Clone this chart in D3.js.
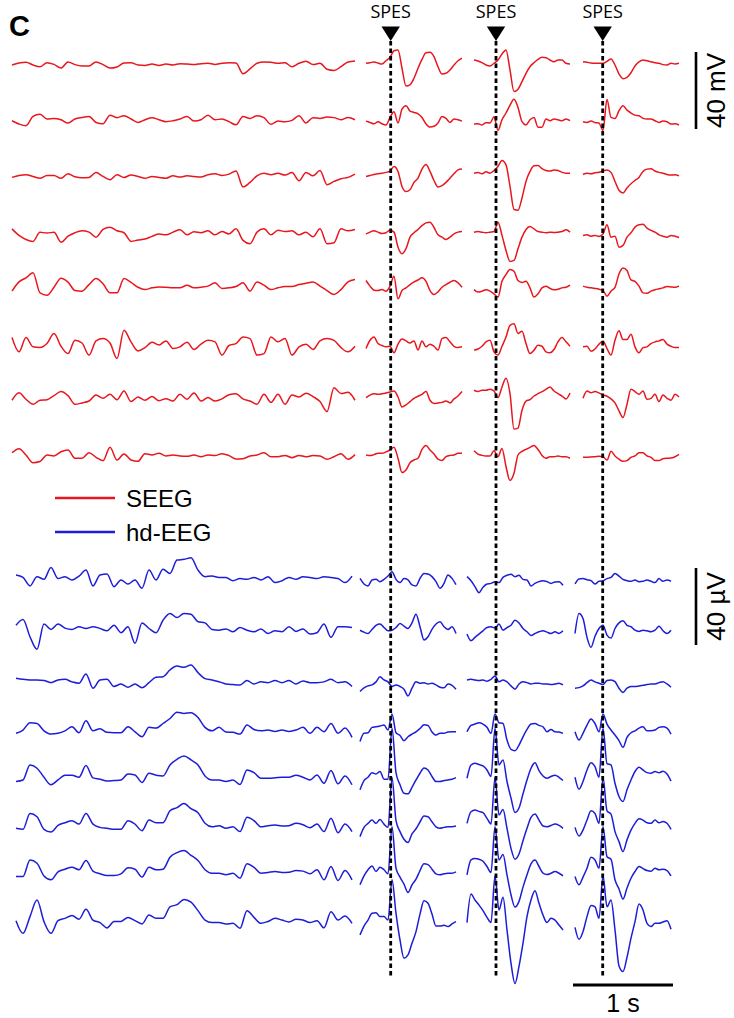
<!DOCTYPE html>
<html>
<head>
<meta charset="utf-8">
<script src="https://cdn.jsdelivr.net/npm/d3@7"></script>
<style>
  body { margin: 0; background: #fff; }
  svg { display: block; }
</style>
</head>
<body>
<svg id="chart" width="734" height="1018"></svg>
<script>
// ---- Timing (s, on a common strip axis) ----
const restStep = 0.07;            // resting-state sampling step
const epochStep = 0.04;           // SPES epoch sampling step
const stimTimes = [3.787, 4.84, 5.907];
const seegRestStart = 0.0;
const hdRestStart = 0.04;
const seegEpochStarts = [3.54, 4.62, 5.71];
const hdEpochStarts = [3.48, 4.55, 5.63];

// ---- SEEG (mV), 8 contacts ----
const seegRest = [
  [0,1,1.4,0,-0.9,1.2,0.3,-1.6,1.6,0.2,-0.5,-0.5,1.6,0.2,-1.6,-1,1,1.2,0,-0.2,0.5,-0.2,0.5,0,0.7,0.5,0.2,0.7,0.9,0.3,0.9,1.2,1,-4.5,-2,0.9,1.6,1.4,0.9,1.2,-0.9,0.9,1.9,0.2,0.9,-2.2,-2.8,-0.9,1.6,2.1],
  [0,-1.7,-2.6,2.2,3.4,0.9,1.2,0.5,-1.2,0.9,1.7,2.2,-0.9,-1.6,2.9,1.6,2.6,0.9,-0.9,0.5,1.6,0.5,-0.5,0,0.9,2.2,-0.2,0.5,2.9,0.5,0.9,-0.5,-2.1,2.2,1.2,2.6,1.6,-1.9,-0.2,-0.5,0.2,2.6,-1.2,1.6,1.2,1.9,1.6,0.5,1.7,0.5],
  [-0.5,0.5,0.9,0,-1,0.5,0.5,-1,1.4,-0.2,-0.7,-0.5,2,0,-1.7,0.9,-0.5,0.7,0,-1,0,-0.5,-0.9,0.3,-0.3,0.3,0,-0.3,0.9,1.4,0.5,1.2,2.8,-5.5,-3.1,0.3,1.6,0.9,1.6,0.7,2,-2.2,2.1,0.3,3.1,-4.3,-2.6,-1.2,-0.5,1.2],
  [1.7,-1.7,-3.8,-4.8,0,-0.5,0,-5.2,-2.1,-0.3,0.7,0,-2.6,1.4,2.6,0.7,-0.3,-4.8,-4.1,-3.6,-2.2,-1,-1.4,0,1.2,-1.4,0.2,-0.3,0.7,-1.4,0.3,-0.9,1.7,-4.3,-6,0,1.7,-1.4,1,0.3,0.7,-1.4,0,-2.4,1.7,-6,-5.5,1.7,0.7,1.4],
  [-1.7,3.1,5.2,7.8,-2.6,-3.8,0.3,5,3,-1.4,-1.7,1.7,4.8,2.1,-2.6,-2.6,4.8,2.9,0.3,-0.9,0,0.5,0.3,0,0,1.4,0,0.3,0.9,2.6,-0.3,0,0.7,2.6,-1.7,3.1,1.4,-0.9,0,0.7,0.7,1.7,2.4,3.1,0.9,-1.4,-3.4,-0.9,3.1,4.3],
  [3.1,-4.3,3.1,-1.7,-2.1,0,5.2,-1.4,-5.2,1.7,0.3,-6,1.4,2.6,0.3,-7.8,6.9,0.9,-3.8,-2.1,0.7,-0.7,1.4,-2.6,-1.7,0.7,-3.1,-0.3,1.7,0.9,-6,-1,0,3.4,2.6,-6,-5.2,3.4,0.9,2.6,-6,-1.7,-0.3,-3.1,1.4,2.6,1.7,-2.1,-4.3,-1.4],
  [-0.5,3.4,0,-2.6,-0.5,-0.2,1.9,4,1.9,-2.6,-1.9,-0.9,2.2,0.5,2.6,-0.2,4.3,-1.2,1.2,-0.5,1.4,-0.7,0.3,-0.9,2.6,0,3.3,-0.9,0.9,-0.9,0.2,2.4,2.9,0.2,-0.9,-2.6,2.6,-1.6,2.6,-2.6,2.2,1.2,3.1,1.4,-1.2,-6.4,6,3,3.6,-0.5],
  [1.2,3.3,0,-4,-3.4,0,-0.5,1.7,2.6,-1.7,-1.7,1.2,-1.2,-3,4,-2.6,0.5,-2.6,-3.3,0.7,0,0.9,-0.5,0,-0.5,-0.7,0,-0.9,0,-0.3,0.7,-0.3,-2.1,-1.9,-0.5,0,1.2,-0.9,-0.9,-0.2,-1.4,-0.2,-0.9,-0.3,-0.5,-2.2,-0.9,0.7,-2.2,0.2]
];
const seegEpoch1 = [
  [0.9,1.2,1.6,1,0.5,2.2,4,7.4,7.8,-1.7,-10.9,-10.3,-6.9,-1.7,2.9,6.4,6.6,4.3,-0.9,-4.7,-4.3,-2.6,0,2.2,3.6],
  [-0.2,-0.9,-1.6,-0.5,-1.6,-2.2,1.7,4.7,-1.2,6,7.8,5,4.3,3.6,1.7,-1.7,-3.3,-2.9,-1.2,2.2,1.2,-0.9,0.9,0.5,-0.2],
  [0,0.5,1,1.4,1.6,2.1,2.8,5.2,2.6,-5.2,-7.8,-6.9,-3.1,-0.9,3.8,6.2,2.6,-2.1,-5.5,-4.8,-3.1,-0.9,1.4,3.4,3.8],
  [-0.9,0,0.7,0,-0.7,-0.3,1,0,-7.8,-11.2,-8.6,-2.6,-0.3,1.4,3.4,4.8,5.2,2.4,-1.4,-2.6,-3.8,-2.6,-0.9,0,0.3],
  [3.8,0.9,-1.2,-1.4,-0.9,-1.7,0.9,6,-5.7,-1.4,0,1.7,3.1,4.1,5.2,3.4,-1.4,-3.4,-2.1,0.3,1.7,2.9,3.8,2.6,0.3],
  [-2.6,1.7,3.4,0,-1,-1.7,-1.4,-4.8,-0.3,2.4,1.4,0.3,1.4,-3.4,1.4,-1.7,-0.3,-1.4,-3.4,2.6,3.1,0.9,-1.4,-2.1,-1.7],
  [0.9,2.2,2.9,2.6,2.9,3.3,3.8,4.3,1.2,-4,-2.9,-1.2,0.5,1.6,2.6,4,-0.5,-2.2,-1.9,-1.6,-0.9,-1.9,0.2,1.7,4],
  [0,-0.3,0.2,0.9,0.9,1.6,2.6,4,-1.7,-9.1,-7.8,-4,-2.6,-1.7,2.9,5,2.6,0.5,-2.2,-2.9,-0.9,-0.2,0,0.9,0.9]
];
const seegEpoch2 = [
  [2.6,2.1,1.2,0,-0.5,0.9,2.6,5.7,7.8,-2.6,-13.8,-12.6,-8.6,-4.3,-0.9,1.2,2.9,4,3.8,2.6,1.7,2.6,2.6,0.9,0.5],
  [-1.7,-1.6,-2.2,-1,-1.2,2,-5,0.5,4,8.1,11.2,6.9,-0.5,-2.2,0.5,1.7,-3.4,-3.4,0.9,0,0.9,0.5,0,0.9,0],
  [1.7,2.1,1.4,2.4,1.7,3.1,5.2,8.3,6,-5.2,-17.2,-17.6,-11.2,-2.6,2.6,5.5,5.7,4.1,3.1,2.8,3.4,3.1,2.1,1.7,1.7],
  [0,0.3,0,-0.3,0,0.3,5.2,-1.7,-9.5,-15.2,-14.7,-8.6,-2.6,1.4,2.9,1.7,0.3,0,-0.3,0,-0.2,0,0.3,1.2,0],
  [-0.9,-2.2,-1.7,-1,-1.7,-3.1,-4.8,3.4,6.9,9.5,8.6,3.8,2.8,3.4,0,-4.8,-3.1,0,0.9,-0.3,-1,-0.7,0,0.3,1.4],
  [-3.4,-2.8,-1.4,0.9,1.7,-4.3,-6,-1.4,3.4,9.5,10.3,5.2,6.4,0,-5.2,-3.4,-0.9,-1.4,-4.3,-4.8,-3.1,0.9,3.1,0.9,-1.4],
  [4.7,4,4.7,4.7,5.2,4.3,0.9,6.4,10.9,2.9,-15.5,-15,-5.7,-0.9,-0.2,1.7,2.9,4,5.2,6.4,4.3,2.9,1.7,0.2,3.3],
  [2.2,0.5,-0.2,-0.5,-0.5,2.2,-0.9,3.4,-6,-13.3,-9.5,0,1.9,2.9,4,5,2.9,-0.2,-1.7,-0.9,-0.9,-0.5,-0.9,-0.9,-1.7]
];
const seegEpoch3 = [
  [1.7,1.4,1,0.9,0.9,0.9,1.9,3.1,0,-4.7,-7.1,-6.4,-4,-0.5,1.6,2.6,2.2,1.7,1.2,0.9,0.2,0,0.9,0.5,0.9],
  [-0.5,-0.9,-0.2,-0.9,-1.2,-5,11,1.7,1.2,5.2,7.8,5.5,4,2.9,2.6,1.2,0.9,0.9,0,-0.9,-0.2,-0.5,-1.7,-1.6,-2.2],
  [1,1.6,1.4,1.9,2.2,2.8,3.4,2.1,-2.6,-7.2,-8.6,-6,-3.8,-2.1,-0.5,2.6,3.8,4,2.8,2.1,1.7,1,0.7,0.9,0.3],
  [-1.7,-1.4,-2.1,-1.7,-2.2,-1,3.8,-2.6,-2.1,-7.8,-6.9,-2.6,-0.3,2.6,3.8,4.1,2.1,0.9,0,-1.4,-2.1,-2.6,-1.7,-2.1,-2.8],
  [0.9,0.3,0,-0.3,-0.7,-1.4,-4.3,-1.7,0.3,7.2,10.3,9,4.1,3.4,0.9,-2.6,-2.8,-1.7,-1,-0.5,0,0.7,0.5,0.3,0.9],
  [-1.7,-1.4,-4,-2.8,-0.3,1.4,-2.6,-6,1.7,6.6,2.1,2.1,4.8,-1.7,-4.8,-2.1,-1.7,0,0.9,1.4,2.1,-0.3,-1.4,-2.1,-2.1],
  [0.5,4.3,3.4,4,3.3,2.2,1.6,0.2,-1.9,-6,-9.5,-2.6,5.2,4,2.6,4.3,0,0.5,2.6,-1.2,2.2,0.5,-0.5,2.6,1.2],
  [-1.2,-1.2,-1,-0.9,-0.7,-0.9,-2.6,1.9,-0.5,-2.2,-3.3,-2.9,-1.2,-0.5,1.2,1.2,-0.5,-1.2,-2.9,-2.9,-1.9,-1.7,-1.6,-0.9,0.3]
];

// ---- hd-EEG (µV), 8 electrodes ----
const hdRest = [
  [1.6,0.3,-4.1,0.7,-0.7,5.5,-0.3,0.7,-1,1,4.1,-4.1,1.6,2.1,-4.5,-1,-3.1,-1,-5.3,4.1,-1,4.5,2.4,9.3,9.7,10.5,4.1,0.7,1,0.3,0.3,-1.4,-0.3,-0.7,0.3,-1,0.7,-2.4,-1.4,0.3,-0.7,0.7,0.3,-0.3,0.7,0.3,-0.3,-2.4,1],
  [1,4,-5,-11.5,1.6,-1.2,1.6,-0.5,-1.2,0.2,-0.7,0.2,-0.7,-1.9,1,-2.9,0.2,-8.4,2.2,-0.7,-2.9,3.6,7.1,5,7.1,6.7,2.8,2.2,-1.2,-1.6,-0.9,-2.4,-0.2,-1.6,-2.4,-0.9,-3.3,-1.9,-2.4,0.2,-2.2,-0.9,-3.6,-2.9,1.6,-5.3,0.2,0.2,-0.2],
  [-1,-1.6,-1.9,-1.9,-2.2,-3.3,-1.9,-1.6,-2.9,-3.6,1.2,-6.2,-1.9,-1.6,-5.3,-4,-5.7,-4,-6,-3.3,-0.5,-0.2,3.3,5.3,4.7,5.9,1.9,-1.2,-1.9,-2.8,-4,-4.3,-4.5,-2.2,-4,-2.9,-3.3,-2.2,-3.3,-2.2,-4,-2.4,-3.3,-3.3,-2.9,-1.6,-3.3,-2.8,-5.3],
  [-4.1,-2.4,1.4,1,-2.8,-4.5,-4.1,-2.8,-0.7,-3.8,2.4,-2.8,-1.7,-3.6,-3.8,-3.8,-0.7,-3.3,-5.9,-1,-1.4,1,3.6,6.9,6.2,6.6,4.1,-1,-2.8,-1,-3.4,-3.6,-4.5,0.2,-2.1,-2.8,-2.4,-3.1,-2.4,-3.1,-2.4,-1,-4.1,-1,-3.3,1,-4.1,-1.4,-6.2],
  [-3.6,-2.8,5,3.3,-1.4,-5.3,-2.8,-0.3,-0.3,-1.4,4.7,-1.7,-2.4,-3.4,-3.1,-2.8,0.3,-0.2,-4.1,0.7,-0.3,-0.7,5,7.9,9.7,7.6,5,-0.7,-2.8,-2.8,-3.6,-2.8,-5.2,2.4,1,-1.9,-1.9,-1.7,-1.4,-1.4,-0.3,-1.4,-2.8,-0.2,-4.5,2.1,-4.8,-0.7,-5.3],
  [-2.4,-2.9,5.3,3.6,-2.9,-4.3,-0.9,0.5,1.6,-0.2,5.3,-0.2,-1.9,-2.4,-2.9,-2.9,1.6,-0.2,-3.6,1.9,0.5,0.5,6.7,8.4,10.5,7.8,5.7,0.2,-1.6,-1,-2.4,-1.6,-4.1,3.3,1.6,-1.6,-1,-0.7,-1.2,-1,0.2,-0.5,-2.1,-0.2,-4.1,2.8,-4.7,-0.2,-4.1],
  [-1.9,-1.9,6.7,5,-1.6,-3.6,0.5,1.9,2.9,1.6,6.4,0.9,-0.5,-1.4,-1.4,-0.5,2.6,1.9,-2.2,2.9,1.6,1.9,8.1,10.5,11.6,9.1,6.4,1.6,-0.2,-0.2,-1,-0.2,-2.8,4.7,2.9,-0.2,0.2,0.7,0.2,0.3,1.2,0.9,-0.5,1.6,-3.6,3.3,-4,1.2,-3.6],
  [0.7,-5.9,2.8,11.4,0.2,-5.9,0.7,1.9,3.4,1.4,6.6,1,-0.3,-3.1,0.2,0.3,2.4,0.7,-1,3.6,1.9,1.9,7.9,9,11.7,10.3,5.9,1,-0.3,-0.3,-1,-0.7,-3.3,5.9,2.4,-0.7,0.3,1.9,1,0,1.4,1,-0.3,0.7,-3,5.3,1,3.1,-0.7]
];
const hdEpoch1 = [
  [-0.2,-3.1,-4.1,-1,-0.7,-1.9,-0.7,1,3.3,-0.7,-2.4,-0.3,-1,-3.6,-4.1,-0.2,2.4,2.1,0.7,-1.9,-5.3,-2.8,1.6,-0.2,-3.4],
  [-1.6,-2.6,-3.3,-1.2,0.9,1.6,-0.2,-1.9,-1.6,-0.2,1.9,0.5,-0.7,2.2,6.7,0.2,-6.7,-5,-1.2,1.6,2.8,0.2,-1.2,0.2,-3.3],
  [-7.9,-6,-5,-4.5,-2.9,-0.2,-1.9,-2.9,-5.3,-4.5,-5.3,-6.7,-10.2,-6.2,-2.9,-3.6,-3.3,-4,-3.6,-4.5,-5.7,-6,-4,-4.7,-6.7],
  [-8.4,-4.1,-3.8,-1,-0.7,-0.3,0.2,-2.4,6,-3.8,-5.2,-7.9,-5.9,-4.5,-3.3,-1.6,0.3,0,-3.4,-5,-4.1,-4.1,-3.4,-3.3,-3.3],
  [-7.9,-3.1,-1.4,1,0.3,1.6,-2.4,-2.4,24,1,-5.3,-9.7,-10,-6.6,-2.8,0.7,3.4,2.4,-1,-3.6,-3.6,-3.1,-2.8,-2.4,-1.6],
  [-6.7,-1.9,0.2,1.9,0.2,2.2,-0.2,-1.9,24,1.6,-4.1,-8.1,-9.8,-5.3,-2.6,0.9,4,3.6,1,-1.6,-2.4,-1.9,-1.6,-1.6,-1.2],
  [-6.2,-1.6,1.6,3.6,0.7,2.9,1.6,-0.5,24,2.4,-2.2,-5.9,-10.2,-6.2,-3.3,1.2,4.7,4.3,1.9,-0.5,-1,-0.5,-0.2,-0.2,0.5],
  [-6.7,-2.1,1,4.5,4.8,2.8,2.8,1,22,4.5,-9.3,-18.8,-17.1,-11,-5,4.1,11,9.7,4.1,-2.1,-2.1,-1.7,-2.4,-1,0.2]
];
const hdEpoch2 = [
  [0.7,-1.4,-4.5,-7.6,-4.8,-3.1,-2.8,-1.9,-2.4,0.3,1.4,1.9,0.7,1.4,-0.7,-1,-4.1,-2.8,-1.9,-1.4,-1.9,-2.8,-2.1,-1.9,-3.8],
  [-3.6,-7.1,-5.3,-3.6,-1.9,-0.2,0.2,-0.5,1.6,-1.6,-0.2,1,3.6,2.2,-0.7,-2.4,-4.3,-3.3,-2.4,-1.9,-2.6,-3.3,-2.4,-3.3,-1.9],
  [-1.9,-1.6,-1.9,-2.2,-1.9,-2.6,-1.6,0.2,-2.9,-1.9,-2.9,-5,-6.7,-4,-2.9,-3.3,-4,-3.6,-3.6,-4,-4,-4.3,-4,-3.6,-4.5],
  [-3.3,0,0.7,1.4,0.7,-1,-4.1,6,1.4,1,-7.6,-12.4,-13.1,-10.2,-5.9,-2.1,0.7,1,0,-0.7,-3.3,-2.1,-3.3,-3.4,-4.1],
  [-1.9,5,5.9,5.2,4.5,2.4,-1,24,5,7.6,-3.6,-12.2,-19.7,-17.4,-10,-2.8,3.3,6.2,2.1,-0.7,-1.9,-1,-0.3,-1.4,-3.1],
  [0.2,6.2,7.1,6.4,5.7,2.8,-0.2,24,4.5,7.4,-2.4,-12.8,-18.4,-15.7,-8.8,-2.4,3.3,5,1.9,-1.2,-1.6,-0.9,-0.2,-0.9,-2.4],
  [-1,6.7,7.4,7.1,6,3.3,0.2,24,6.7,9.5,-1,-11.4,-17.8,-14.8,-7.4,-1,4.7,6.7,3.3,-0.2,-0.9,-0.2,0.7,-0.2,-1.6],
  [-0.3,14.5,11.4,8.8,5.9,2.4,-0.3,24,6.2,12.8,-4.1,-21.4,-32,-23.1,-11,2.8,11.4,16.2,9.7,3.6,-0.3,1.9,1,-1.6,-4.1]
];
const hdEpoch3 = [
  [-3.1,-0.5,-0.3,-0.9,-1.4,-3.1,-1.7,-1.4,-0.3,0.3,2.4,1,-0.7,-1.4,-1.7,-1,-1.9,-1.7,-1,-1.7,-2.4,-0.3,-1.7,-1,-1.7],
  [-3.3,7.1,4.5,-5.3,-10.5,-4.7,-0.7,1,-4.1,-5.7,-0.7,2.2,3.3,0.9,0.2,-1.6,-2.2,-1.6,-1.9,-2.4,-1.6,0.5,-1.9,-3.3,-1.6],
  [-6.2,-5.9,-5,-3.3,-1.9,-2.9,-3.6,-4.3,-2.2,-1.9,-2.8,-6.2,-8.4,-6.2,-5.3,-5.3,-5,-4.7,-4.3,-4,-4,-3.3,-2.8,-4,-5.7],
  [-3.3,-7.6,-4.1,0.2,3.4,1,-3.3,6,0.7,-2.4,-5,-7.9,-11.4,-6.2,-3.8,-2.8,-1.4,-0.7,-2.8,-2.8,-2.4,-1,-0.7,-1.4,-4.5],
  [-1.4,-7.6,-3.6,2.4,6.2,4.1,-1.4,24,5.7,5,-4.5,-11.4,-14,-7.9,-2.8,1.6,3.8,2.4,1,0.7,1.6,1,1.7,0.3,-3.4],
  [-1.9,-6.4,-3.3,1.9,6.7,5.3,0.2,24,6.7,5,-4.1,-9.3,-14.5,-8.4,-3.3,0.2,2.6,1.9,0.5,0.2,1.9,0.5,1.2,0.2,-2.9],
  [-1.9,-6.2,-2.2,2.4,8.1,6.7,2.4,24,8.4,7.1,-3.6,-8.4,-13.6,-7.9,-2.8,0.7,3.3,2.2,1.2,0.9,2.4,1.6,1.9,1.2,-1.6],
  [-2.8,-9,-5,2.8,8.6,7.9,1.9,24,7.9,11.4,-4.1,-22.8,-25.7,-18.3,-8.4,0.2,9.3,6.2,-0.7,-2.4,-0.7,-0.7,0,0.7,-3.8]
];

// ---- Labels ----
const panelLabel = "C";
const stimLabel = "SPES";
const legendLabels = ["SEEG", "hd-EEG"];
const seegBarValue = 40, seegBarUnit = "mV";
const hdBarValue = 40, hdBarUnit = "µV";
const timeBarValue = 1, timeBarUnit = "s";

const seegColor = "#e8161d";
const hdColor = "#1d1dd8";
const font = "'Liberation Sans', Arial, Helvetica, sans-serif";

// ---- Scales ----
const svg = d3.select("#chart");
const x = d3.scaleLinear().domain([0, 6.7]).range([12, 682]);
const amp = d3.scaleLinear().domain([0, 40]).range([0, 77]);
const seegRowY = d3.scalePoint().domain(d3.range(8)).range([65, 455]);
const hdRowY = d3.scalePoint().domain(d3.range(8)).range([578, 922]);

function drawTraces(rows, t0, step, rowY, color) {
  const g = svg.append("g");
  rows.forEach((vals, r) => {
    const line = d3.line()
      .x((d, i) => x(t0 + i * step))
      .y(d => rowY(r) - amp(d))
      .curve(d3.curveMonotoneX);
    g.append("path")
      .attr("d", line(vals))
      .attr("fill", "none")
      .attr("stroke", color)
      .attr("stroke-width", 1.5)
      .attr("stroke-linejoin", "round");
  });
}

drawTraces(seegRest, seegRestStart, restStep, seegRowY, seegColor);
[seegEpoch1, seegEpoch2, seegEpoch3].forEach((ep, k) =>
  drawTraces(ep, seegEpochStarts[k], epochStep, seegRowY, seegColor));
drawTraces(hdRest, hdRestStart, restStep, hdRowY, hdColor);
[hdEpoch1, hdEpoch2, hdEpoch3].forEach((ep, k) =>
  drawTraces(ep, hdEpochStarts[k], epochStep, hdRowY, hdColor));

// ---- Stimulation markers ----
const stimG = svg.append("g");
stimTimes.forEach(t => {
  const sx = x(t);
  stimG.append("line")
    .attr("x1", sx).attr("x2", sx).attr("y1", 41).attr("y2", 978)
    .attr("stroke", "#000").attr("stroke-width", 2.8)
    .attr("stroke-dasharray", "4.5,3");
  stimG.append("path")
    .attr("d", `M${sx - 9.2},26.5L${sx + 9.2},26.5L${sx},41Z`)
    .attr("fill", "#000");
  stimG.append("text")
    .attr("x", sx).attr("y", 17.5)
    .attr("text-anchor", "middle")
    .attr("font-family", "'Open Sans', 'DejaVu Sans', sans-serif")
    .attr("font-size", 18)
    .text(stimLabel);
});

// ---- Panel label ----
svg.append("text")
  .attr("x", 9).attr("y", 36)
  .attr("font-family", font).attr("font-weight", "bold")
  .attr("font-size", 29)
  .text(panelLabel);

// ---- Legend ----
const legend = svg.append("g");
[[seegColor, 498, 507], [hdColor, 532, 541]].forEach(([c, ly, ty], i) => {
  legend.append("line")
    .attr("x1", 55).attr("x2", 115).attr("y1", ly).attr("y2", ly)
    .attr("stroke", c).attr("stroke-width", 2.5);
  legend.append("text")
    .attr("x", 126).attr("y", ty)
    .attr("font-family", font).attr("font-size", 24)
    .text(legendLabels[i]);
});

// ---- Scale bars ----
function ampBar(y0, value, unit) {
  const len = amp(value);
  svg.append("line")
    .attr("x1", 696).attr("x2", 696).attr("y1", y0).attr("y2", y0 + len)
    .attr("stroke", "#000").attr("stroke-width", 2.6);
  svg.append("text")
    .attr("transform", `translate(725,${y0 + len / 2}) rotate(-90)`)
    .attr("text-anchor", "middle")
    .attr("font-family", font).attr("font-size", 26)
    .text(`${value} ${unit}`);
}
ampBar(52, seegBarValue, seegBarUnit);
ampBar(568, hdBarValue, hdBarUnit);

const tbx0 = 573;
const tbLen = x(timeBarValue) - x(0);
svg.append("line")
  .attr("x1", tbx0).attr("x2", tbx0 + tbLen).attr("y1", 985).attr("y2", 985)
  .attr("stroke", "#000").attr("stroke-width", 3);
svg.append("text")
  .attr("x", tbx0 + tbLen / 2).attr("y", 1012)
  .attr("text-anchor", "middle")
  .attr("font-family", font).attr("font-size", 25)
  .text(`${timeBarValue} ${timeBarUnit}`);
</script>
</body>
</html>
